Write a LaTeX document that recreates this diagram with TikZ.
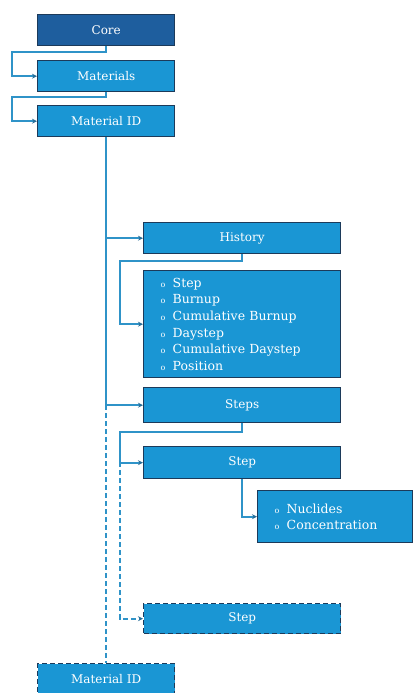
\documentclass[tikz,border=0pt]{standalone}
\usepackage{fontspec}
\setmainfont{DejaVu Serif}
\usetikzlibrary{arrows.meta}
\definecolor{boxblue}{HTML}{1A96D4}
\definecolor{coreblue}{HTML}{1E5E9E}
\definecolor{edge}{HTML}{1C3A5A}
\definecolor{conncol}{HTML}{2F93C8}
\definecolor{tipcol}{HTML}{2A6F98}
\tikzset{
  box/.style={draw=edge, fill=boxblue, line width=1.4pt, text=white, anchor=north west,
    minimum width=197pt, minimum height=31pt, inner sep=0pt, font=\fontsize{12}{14}\selectfont},
  dashbox/.style={box, dashed, dash pattern=on 5pt off 3pt},
  listbox/.style={box, align=left, inner xsep=17pt, text width=163pt,
    font=\fontsize{12.5}{16.7}\selectfont},
  conn/.style={draw=conncol, line width=1.8pt, -{Stealth[length=5pt,width=5pt,color=tipcol]}},
  dconn/.style={conn, dashed, dash pattern=on 5pt off 3pt},
}
\newcommand{\bul}{\makebox[12pt][l]{\fontsize{8}{8}\selectfont o}}
\begin{document}
\begin{tikzpicture}[x=1pt,y=-1pt]
\useasboundingbox (0,0) rectangle (416,693);
\node[box, fill=coreblue, minimum width=137pt] (core) at (37,14) {Core};
\node[box, minimum width=137pt] (materials) at (37,60) {Materials};
\node[box, minimum width=137pt] (mid) at (37,105) {Material ID};
\node[box] (history) at (143,222) {History};
\node[listbox, minimum height=107pt] (list) at (143,270) {\bul Step\\ \bul Burnup\\ \bul Cumulative Burnup\\ \bul Daystep\\ \bul Cumulative Daystep\\ \bul Position};
\node[box, minimum height=35pt] (steps) at (143,387) {Steps};
\node[box, minimum height=32pt] (step) at (143,446) {Step};
\node[listbox, minimum width=155pt, text width=121pt, minimum height=52pt] (nuc) at (257,490) {\bul Nuclides\\ \bul Concentration};
\node[dashbox, minimum height=30pt] (step2) at (143,603) {Step};
\node[dashbox, minimum width=137pt, minimum height=31pt] (mid2) at (37,663) {Material ID};

\draw[conn] (core.south) |- (12,52) |- (materials.west);
\draw[conn] (materials.south) |- (12,97) |- (mid.west);
\draw[conn] (mid.south) |- (history.west);
\draw[conn] (mid.south) |- (steps.west);
\draw[draw=conncol, line width=1.8pt, dashed, dash pattern=on 5pt off 3pt] (mid.south |- steps.west) -- (mid2.north);
\draw[conn] (history.south) |- (120,261) |- (list.west);
\draw[conn] (steps.south) |- (120,432) |- (step.west);
\draw[dconn] (120,462) |- (step2.west);
\draw[conn] (step.south) |- (nuc.west);
\end{tikzpicture}
\end{document}
